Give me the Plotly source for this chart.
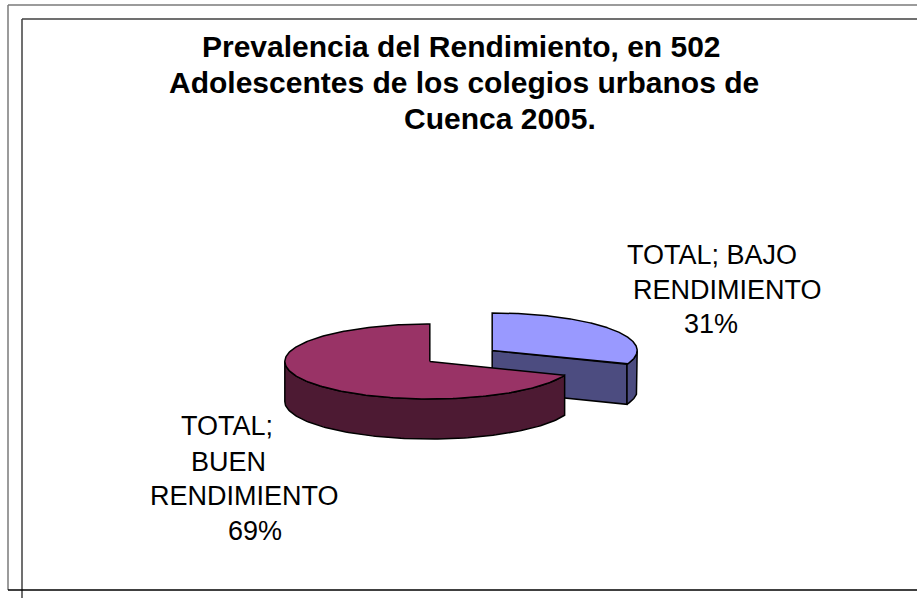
import numpy as np
import plotly.graph_objects as go

# ---------------- data ----------------
categories = ["TOTAL; BAJO RENDIMIENTO", "TOTAL; BUEN RENDIMIENTO"]
values = [31, 69]
label_lines = [["TOTAL; BAJO", "RENDIMIENTO"], ["TOTAL;", "BUEN", "RENDIMIENTO"]]
title_lines = ["Prevalencia del Rendimiento, en 502",
               "Adolescentes de los colegios urbanos de",
               "Cuenca 2005."]

# ---------------- style / layout ----------------
top_colors = ["#9999FF", "#993366"]
side_colors = ["#4C4C80", "#4D1A33"]
W, H = 917, 598
CX, CY = 461, 356          # pie centre (pixel space)
RX, RY, DEPTH = 145, 37.5, 40
EXPLODE = 0.26
FONT = "Liberation Sans, Arial, sans-serif"

# label line anchors (centre x, baseline y) per category
label_pos = [
    [(712, 264), (727, 299), (711, 333)],
    [(227, 435), (228, 471), (244, 505), (255, 540)],
]
title_pos = [(461, 57), (464, 93), (500, 129)]


def edge(cx, cy, ang_deg, dy=0.0):
    a = np.radians(ang_deg)
    return cx + RX * np.cos(a), cy - RY * np.sin(a) + dy


fig = go.Figure()

total = float(sum(values))
start = 90.0
slices = []
for i, v in enumerate(values):
    sweep = 360.0 * v / total
    a1 = start
    a0 = start - sweep
    mid = np.radians((a0 + a1) / 2)
    cx = CX + EXPLODE * RX * np.cos(mid)
    cy = CY - EXPLODE * RY * np.sin(mid)
    slices.append(dict(i=i, a0=a0, a1=a1, cx=cx, cy=cy))
    start = a0

# draw back to front
for s in sorted(slices, key=lambda d: d["cy"]):
    i, a0, a1, cx, cy = s["i"], s["a0"], s["a1"], s["cx"], s["cy"]
    side = side_colors[i]
    line = dict(color="black", width=1.5)

    # cut faces
    faces = []
    if np.cos(np.radians(a0)) > 1e-6:
        faces.append(a0)
    if np.cos(np.radians(a1)) < -1e-6:
        faces.append(a1)
    for fa in faces:
        ex, ey = edge(cx, cy, fa)
        xs = [cx, ex, ex, cx, cx]
        ys = [cy, ey, ey + DEPTH, cy + DEPTH, cy]
        fig.add_trace(go.Scatter(x=xs, y=ys, mode="lines", fill="toself",
                                 fillcolor=side, line=line, hoverinfo="skip"))

    # outer visible wall: angles whose sine is negative (front half)
    for k in (-1, 0, 1):
        lo = max(a0, k * 360 - 180)
        hi = min(a1, k * 360)
        if hi - lo > 0.01:
            ang = np.linspace(lo, hi, 120)
            tx, ty = edge(cx, cy, ang)
            bx, by = edge(cx, cy, ang[::-1], DEPTH)
            xs = np.concatenate([tx, bx, tx[:1]])
            ys = np.concatenate([ty, by, ty[:1]])
            fig.add_trace(go.Scatter(x=xs, y=ys, mode="lines", fill="toself",
                                     fillcolor=side, line=line, hoverinfo="skip"))

    # top surface
    ang = np.linspace(a0, a1, 240)
    ax, ay = edge(cx, cy, ang)
    xs = np.concatenate([[cx], ax, [cx]])
    ys = np.concatenate([[cy], ay, [cy]])
    fig.add_trace(go.Scatter(x=xs, y=ys, mode="lines", fill="toself",
                             fillcolor=top_colors[i], line=line, hoverinfo="skip"))

# ---------------- labels ----------------
LFS = 27
for i, v in enumerate(values):
    pct = f"{round(100 * v / total)}%"
    lines = label_lines[i] + [pct]
    for txt, (x, base) in zip(lines, label_pos[i]):
        fig.add_annotation(x=x, y=base - 0.35 * LFS, text=txt, showarrow=False,
                           xanchor="center", yanchor="middle",
                           font=dict(family=FONT, size=LFS, color="black"))

TFS = 30
for txt, (x, base) in zip(title_lines, title_pos):
    fig.add_annotation(x=x, y=base - 0.35 * TFS, text=f"<b>{txt}</b>", showarrow=False,
                       xanchor="center", yanchor="middle",
                       font=dict(family=FONT, size=TFS, color="black"))

# ---------------- frame ----------------
frame = [
    (8, 5, W + 5, 5, "#7a7a7a"),
    (8, 5, 8, 590, "#7a7a7a"),
    (22, 19, W + 5, 19, "#404040"),
    (22, 19, 22, H + 5, "#404040"),
    (8, 590, W + 5, 590, "black"),
]
for x0, y0, x1, y1, c in frame:
    fig.add_shape(type="line", xref="x", yref="y", x0=x0, y0=y0, x1=x1, y1=y1,
                  line=dict(color=c, width=1.5))

fig.update_layout(
    width=W, height=H,
    margin=dict(l=0, r=0, t=0, b=0),
    paper_bgcolor="white", plot_bgcolor="white",
    showlegend=False,
    xaxis=dict(range=[0, W], visible=False, fixedrange=True),
    yaxis=dict(range=[H, 0], visible=False, fixedrange=True),
)

fig.write_html("out.html")
